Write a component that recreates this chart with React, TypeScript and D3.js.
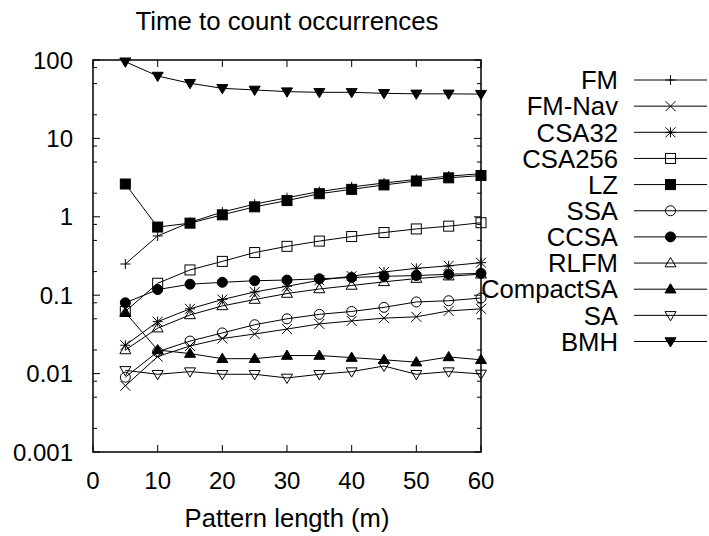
import * as d3 from "d3";

// pattern lengths on the x axis
const patternLengths = [5, 10, 15, 20, 25, 30, 35, 40, 45, 50, 55, 60];

// times per index (log scale)
const fm = [0.25, 0.57, 0.85, 1.15, 1.45, 1.75, 2.1, 2.4, 2.7, 3.0, 3.3, 3.55];
const fmNav = [0.007, 0.0165, 0.0225, 0.028, 0.032, 0.037, 0.043, 0.047, 0.051, 0.053, 0.063, 0.067];
const csa32 = [0.023, 0.046, 0.067, 0.088, 0.11, 0.13, 0.155, 0.175, 0.198, 0.22, 0.237, 0.26];
const csa256 = [0.062, 0.142, 0.21, 0.27, 0.35, 0.42, 0.49, 0.56, 0.63, 0.7, 0.76, 0.84];
const lz = [2.62, 0.74, 0.83, 1.06, 1.34, 1.61, 1.97, 2.24, 2.55, 2.86, 3.14, 3.36];
const ssa = [0.009, 0.019, 0.026, 0.033, 0.042, 0.05, 0.057, 0.062, 0.07, 0.082, 0.085, 0.092];
const ccsa = [0.08, 0.118, 0.138, 0.146, 0.153, 0.156, 0.162, 0.168, 0.174, 0.178, 0.185, 0.19];
const rlfm = [0.02, 0.038, 0.056, 0.073, 0.088, 0.105, 0.12, 0.133, 0.148, 0.163, 0.175, 0.185];
const compactSA = [0.06, 0.02, 0.018, 0.0155, 0.0155, 0.017, 0.017, 0.016, 0.015, 0.014, 0.0163, 0.015];
const sa = [0.011, 0.0098, 0.0106, 0.0098, 0.0098, 0.0088, 0.0098, 0.0106, 0.0125, 0.0098, 0.0106, 0.0099];
const bmh = [95, 62.5, 50.5, 43.5, 41.5, 39.5, 38.7, 38.7, 37.6, 37, 37, 36.7];

const seriesNames = ["FM", "FM-Nav", "CSA32", "CSA256", "LZ", "SSA", "CCSA", "RLFM", "CompactSA", "SA", "BMH"];
const seriesValues = [fm, fmNav, csa32, csa256, lz, ssa, ccsa, rlfm, compactSA, sa, bmh];
const seriesMarkers = ["plus", "cross", "star", "square", "squareFilled", "circle", "circleFilled", "triangle", "triangleFilled", "triangleDown", "triangleDownFilled"];

const xTicks = [0, 10, 20, 30, 40, 50, 60];
const yTicks = [0.001, 0.01, 0.1, 1, 10, 100];
const yTickLabels = ["0.001", "0.01", "0.1", "1", "10", "100"];
const yMinorSteps = [2, 5, 8];

const width = 709;
const height = 536;
const margin = { top: 60, right: 228, bottom: 84, left: 93 };
const font = "'Liberation Sans', Arial, Helvetica, sans-serif";

function Marker({ type, cx, cy }: { type: string; cx: number; cy: number }) {
    const r = 5;
    const filled = type.endsWith("Filled");
    const fill = filled ? "#000" : "none";
    if (type === "plus") {
        return <path d={`M${cx - r},${cy}H${cx + r}M${cx},${cy - r}V${cy + r}`} stroke="#000" />;
    }
    if (type === "cross") {
        return <path d={`M${cx - r},${cy - r}L${cx + r},${cy + r}M${cx - r},${cy + r}L${cx + r},${cy - r}`} stroke="#000" />;
    }
    if (type === "star") {
        return (
            <path
                d={`M${cx - r},${cy}H${cx + r}M${cx},${cy - r}V${cy + r}M${cx - r},${cy - r}L${cx + r},${cy + r}M${cx - r},${cy + r}L${cx + r},${cy - r}`}
                stroke="#000"
            />
        );
    }
    if (type.startsWith("square")) {
        return <rect x={cx - r} y={cy - r} width={2 * r} height={2 * r} fill={fill} stroke="#000" />;
    }
    if (type.startsWith("circle")) {
        return <circle cx={cx} cy={cy} r={r} fill={fill} stroke="#000" />;
    }
    if (type.startsWith("triangleDown")) {
        return <path d={`M${cx},${cy + r * 1.1}L${cx - r * 1.1},${cy - r * 0.75}H${cx + r * 1.1}Z`} fill={fill} stroke="#000" />;
    }
    return <path d={`M${cx},${cy - r * 1.1}L${cx - r * 1.1},${cy + r * 0.75}H${cx + r * 1.1}Z`} fill={fill} stroke="#000" />;
}

export default function App() {
    const wt = width - margin.left - margin.right;
    const ht = height - margin.top - margin.bottom;

    const x = d3.scaleLinear().domain([0, 60]).range([margin.left, margin.left + wt]);
    const y = d3.scaleLog().domain([0.001, 100]).range([margin.top + ht, margin.top]);

    const line = d3
        .line<number>()
        .x((_, i) => x(patternLengths[i]))
        .y((d) => y(d));

    const minorTicks: number[] = [];
    yTicks.slice(0, -1).forEach((t) => yMinorSteps.forEach((s) => minorTicks.push(t * s)));

    const left = x(0);
    const right = x(60);
    const top = y(100);
    const bottom = y(0.001);

    const legendTextX = 618;
    const legendLine = [634, 707];
    const legendY = (i: number) => 80 + i * 26.15;

    return (
        <div style={{ position: "absolute", left: 0, top: 0 }}>
            <svg width={width} height={height} style={{ display: "block", background: "#fff" }} fontFamily={font}>
                {/* title */}
                <text x={(left + right) / 2} y={30} textAnchor="middle" fontSize={25.8}>
                    Time to count occurrences
                </text>

                {/* ticks */}
                {xTicks.map((t) => (
                    <g key={"x" + t}>
                        <line x1={x(t)} x2={x(t)} y1={bottom} y2={bottom - 7} stroke="#000" />
                        <line x1={x(t)} x2={x(t)} y1={top} y2={top + 7} stroke="#000" />
                        <text x={x(t)} y={489} textAnchor="middle" fontSize={24}>
                            {t}
                        </text>
                    </g>
                ))}
                {yTicks.map((t, i) => (
                    <g key={"y" + t}>
                        <line x1={left} x2={left + 7} y1={y(t)} y2={y(t)} stroke="#000" />
                        <line x1={right} x2={right - 7} y1={y(t)} y2={y(t)} stroke="#000" />
                        <text x={73} y={y(t)} dy="0.36em" textAnchor="end" fontSize={24}>
                            {yTickLabels[i]}
                        </text>
                    </g>
                ))}
                {minorTicks.map((t) => (
                    <g key={"m" + t}>
                        <line x1={left} x2={left + 4} y1={y(t)} y2={y(t)} stroke="#000" />
                        <line x1={right} x2={right - 4} y1={y(t)} y2={y(t)} stroke="#000" />
                    </g>
                ))}

                {/* series */}
                {seriesValues.map((vals, si) => (
                    <g key={seriesNames[si]}>
                        <path d={line(vals) || ""} fill="none" stroke="#000" strokeWidth={1} />
                        {vals.map((v, i) => (
                            <Marker key={i} type={seriesMarkers[si]} cx={x(patternLengths[i])} cy={y(v)} />
                        ))}
                    </g>
                ))}

                {/* border */}
                <rect x={left} y={top} width={right - left} height={bottom - top} fill="none" stroke="#000" strokeWidth={1.5} />

                {/* x-axis label */}
                <text x={(left + right) / 2} y={527} textAnchor="middle" fontSize={25.6}>
                    Pattern length (m)
                </text>

                {/* legend */}
                {seriesNames.map((name, i) => (
                    <g key={"l" + name}>
                        <text x={legendTextX} y={legendY(i)} dy="0.36em" textAnchor="end" fontSize={25.7}>
                            {name}
                        </text>
                        <line x1={legendLine[0]} x2={legendLine[1]} y1={legendY(i)} y2={legendY(i)} stroke="#000" />
                        <Marker type={seriesMarkers[i]} cx={(legendLine[0] + legendLine[1]) / 2} cy={legendY(i)} />
                    </g>
                ))}
            </svg>
        </div>
    );
}
